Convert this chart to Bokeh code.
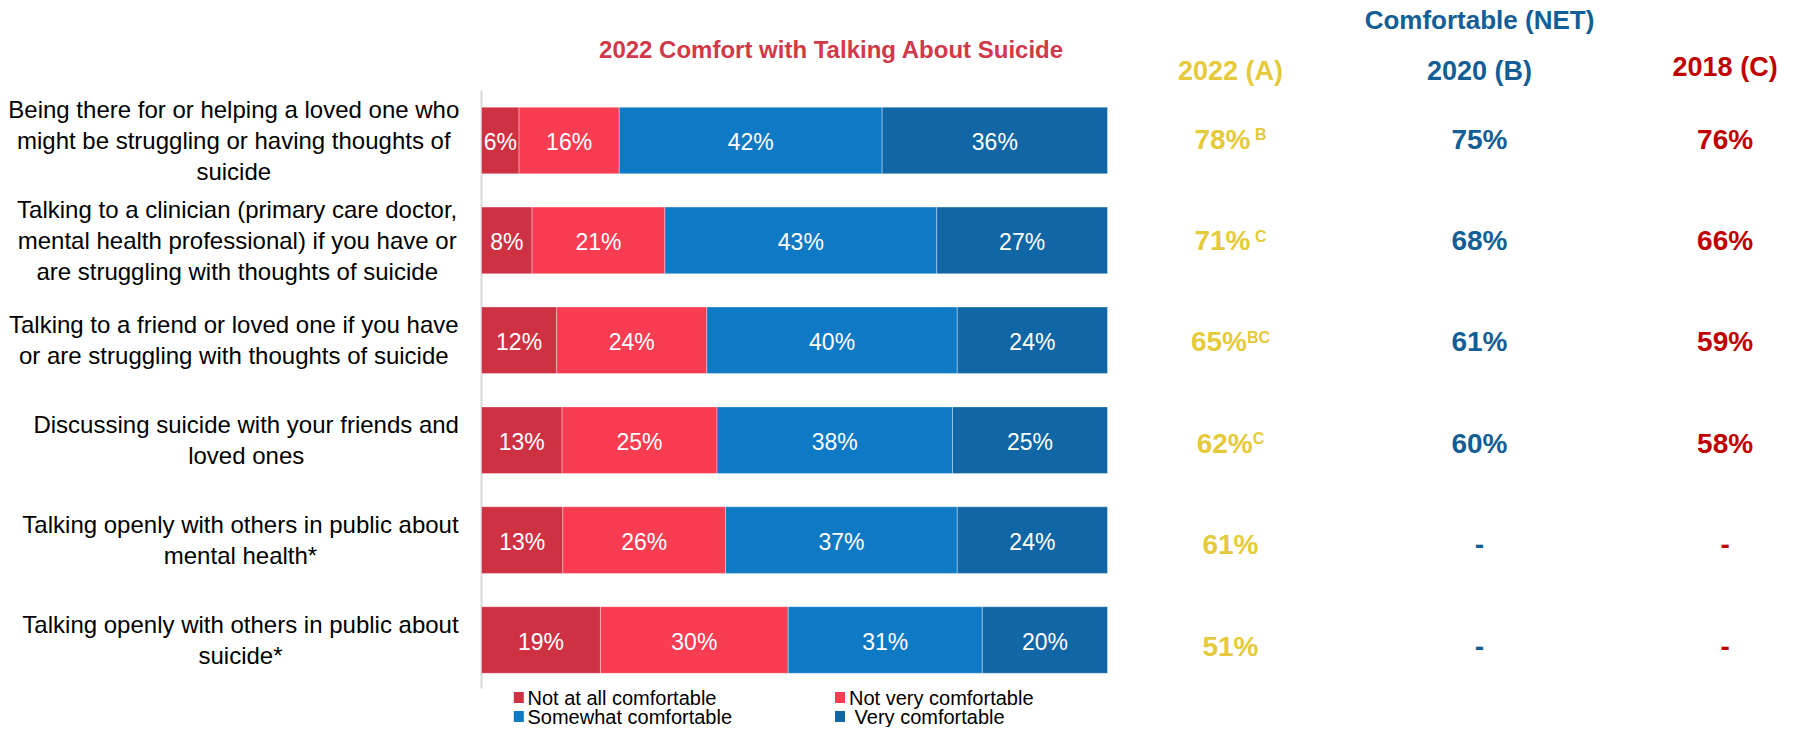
from bokeh.plotting import figure
from bokeh.models import Range1d, ColumnDataSource
from bokeh.core.properties import value
from bokeh.embed import file_html
from bokeh.resources import INLINE

# ---------------- data ----------------
categories = [
    "Being there for or helping a loved one who\nmight be struggling or having thoughts of\nsuicide",
    "Talking to a clinician (primary care doctor,\nmental health professional) if you have or\nare struggling with thoughts of suicide",
    "Talking to a friend or loved one if you have\nor are struggling with thoughts of suicide",
    "Discussing suicide with your friends and\nloved ones",
    "Talking openly with others in public about\nmental health*",
    "Talking openly with others in public about\nsuicide*",
]
series_names = ["Not at all comfortable", "Not very comfortable",
                "Somewhat comfortable", " Very comfortable"]
not_at_all = [6, 8, 12, 13, 13, 19]
not_very = [16, 21, 24, 25, 26, 30]
somewhat = [42, 43, 40, 38, 37, 31]
very = [36, 27, 24, 25, 24, 20]

year_headers = ["2022 (A)", "2020 (B)", "2018 (C)"]
net_2022 = [78, 71, 65, 62, 61, 51]
net_2020 = [75, 68, 61, 60, None, None]
net_2018 = [76, 66, 59, 58, None, None]
sig_2022 = [" B", " C", "BC", "C", "", ""]

title = "2022 Comfort with Talking About Suicide"
net_title = "Comfortable (NET)"

# ---------------- layout / style ----------------
W, H = 1781, 727
X0_PAGE, X100_PAGE = 481.0, 1107.0
ROW0_PAGE, ROW_PITCH = 140.0, 99.9
PPU = (X100_PAGE - X0_PAGE) / 100.0
NBSP = "\u00a0"

def X(px):
    return (px - X0_PAGE) / PPU

def Y(py):
    return (py - ROW0_PAGE) / ROW_PITCH

SEG_COLORS = ["#CE3242", "#F83C52", "#0E79C5", "#1166A6"]
YELLOW, BLUE, RED = "#E5CA3B", "#135E96", "#C00000"
TITLE_RED = "#D0394A"
FONT = value("Liberation Sans")
LABEL_CX = [233.3, 236.7, 233.3, 245.7, 240.0, 240.0]
COL_CX = [1230.0, 1479.0, 1724.6]
HEAD_Y = [70.0, 70.0, 66.7]
VAL_Y0, VAL_PITCH = 138.5, 101.4

p = figure(width=W, height=H,
           x_range=Range1d(-X0_PAGE / PPU, (W - X0_PAGE) / PPU),
           y_range=Range1d((H - ROW0_PAGE) / ROW_PITCH, -ROW0_PAGE / ROW_PITCH),
           output_backend="svg", toolbar_location=None,
           x_axis_location=None, y_axis_location=None, min_border=0)
p.grid.visible = False
p.outline_line_color = None
p.background_fill_color = "white"
p.border_fill_color = "white"

rows = list(range(len(categories)))
series = [not_at_all, not_very, somewhat, very]
totals = [sum(s[i] for s in series) for i in rows]
shares = [[s[i] * 100.0 / totals[i] for i in rows] for s in series]
keys = ["s0", "s1", "s2", "s3"]
src = ColumnDataSource(dict(row=rows, **{k: v for k, v in zip(keys, shares)}))

# axis line
p.segment(x0=[0], y0=[Y(90)], x1=[0], y1=[Y(688)], line_color="#D9D9D9", line_width=2)

p.hbar_stack(keys, y="row", height=0.667, color=SEG_COLORS, source=src,
             line_color="white", line_alpha=0.35, line_width=1)

# segment labels
lx, ly, lt = [], [], []
for i in rows:
    cum = 0.0
    for k, s in enumerate(series):
        sh = shares[k][i]
        lx.append(cum + sh / 2.0)
        ly.append(i + 0.018)
        lt.append(f"{s[i]}%")
        cum += sh
p.text(x=lx, y=ly, text=lt, text_align="center", text_baseline="middle",
       text_color="white", text_font=FONT, text_font_size="23px")

# category labels
p.text(x=[X(c) for c in LABEL_CX], y=rows, text=categories, text_align="center",
       text_baseline="middle", text_color="black", text_font=FONT,
       text_font_size="24px", text_line_height=1.15)

# titles
p.text(x=[X(831)], y=[Y(49)], text=[title], text_align="center", text_baseline="middle",
       text_color=TITLE_RED, text_font=FONT, text_font_size="24px", text_font_style="bold")
p.text(x=[X(1479)], y=[Y(19)], text=[net_title], text_align="center", text_baseline="middle",
       text_color=BLUE, text_font=FONT, text_font_size="26px", text_font_style="bold")
col_colors = [YELLOW, BLUE, RED]
p.text(x=[X(c) for c in COL_CX], y=[Y(v) for v in HEAD_Y], text=year_headers,
       text_align="center", text_baseline="middle", text_color=col_colors,
       text_font=FONT, text_font_size="27px", text_font_style="bold")

# NET values
VAL_PX, SUP_PX = 28, 16
bold_w = {"B": 0.722, "C": 0.722, " ": 0.278}
main_half = (0.556 * 2 + 0.889) * VAL_PX / 2.0
vy = [Y(VAL_Y0 + VAL_PITCH * i) for i in rows]
sup_w = [sum(bold_w[ch] for ch in s) * SUP_PX for s in sig_2022]
main_cx = [COL_CX[0] - w / 2.0 for w in sup_w]
p.text(x=[X(c) for c in main_cx], y=vy, text=[f"{v}%" for v in net_2022],
       text_align="center", text_baseline="middle", text_color=YELLOW,
       text_font=FONT, text_font_size=f"{VAL_PX}px", text_font_style="bold")
p.text(x=[X(c + main_half) for c in main_cx], y=[v - 4.3 / ROW_PITCH for v in vy],
       text=[s.replace(" ", NBSP) for s in sig_2022], text_align="left",
       text_baseline="middle", text_color=YELLOW,
       text_font=FONT, text_font_size=f"{SUP_PX}px", text_font_style="bold")
for col, vals, colr in ((1, net_2020, BLUE), (2, net_2018, RED)):
    p.text(x=[X(COL_CX[col])] * len(rows), y=vy,
           text=[("-" if v is None else f"{v}%") for v in vals],
           text_align="center", text_baseline="middle", text_color=colr,
           text_font=FONT, text_font_size=f"{VAL_PX}px", text_font_style="bold")

# legend
leg_sq_x = [518.3, 839.5, 518.3, 839.5]
leg_tx_x = [527.0, 848.5, 527.0, 848.5]
leg_y = [697.0, 697.0, 716.0, 716.0]
p.rect(x=[X(v) for v in leg_sq_x], y=[Y(v) for v in leg_y], width=10, height=11,
       width_units="screen", height_units="screen", color=SEG_COLORS, line_color=None)
p.text(x=[X(v) for v in leg_tx_x], y=[Y(v) for v in leg_y],
       text=[s.replace(" ", NBSP, 1) if s.startswith(" ") else s for s in series_names],
       text_align="left", text_baseline="middle", text_color="black",
       text_font=FONT, text_font_size="20px")

open("out.html", "w").write(file_html(p, INLINE))
